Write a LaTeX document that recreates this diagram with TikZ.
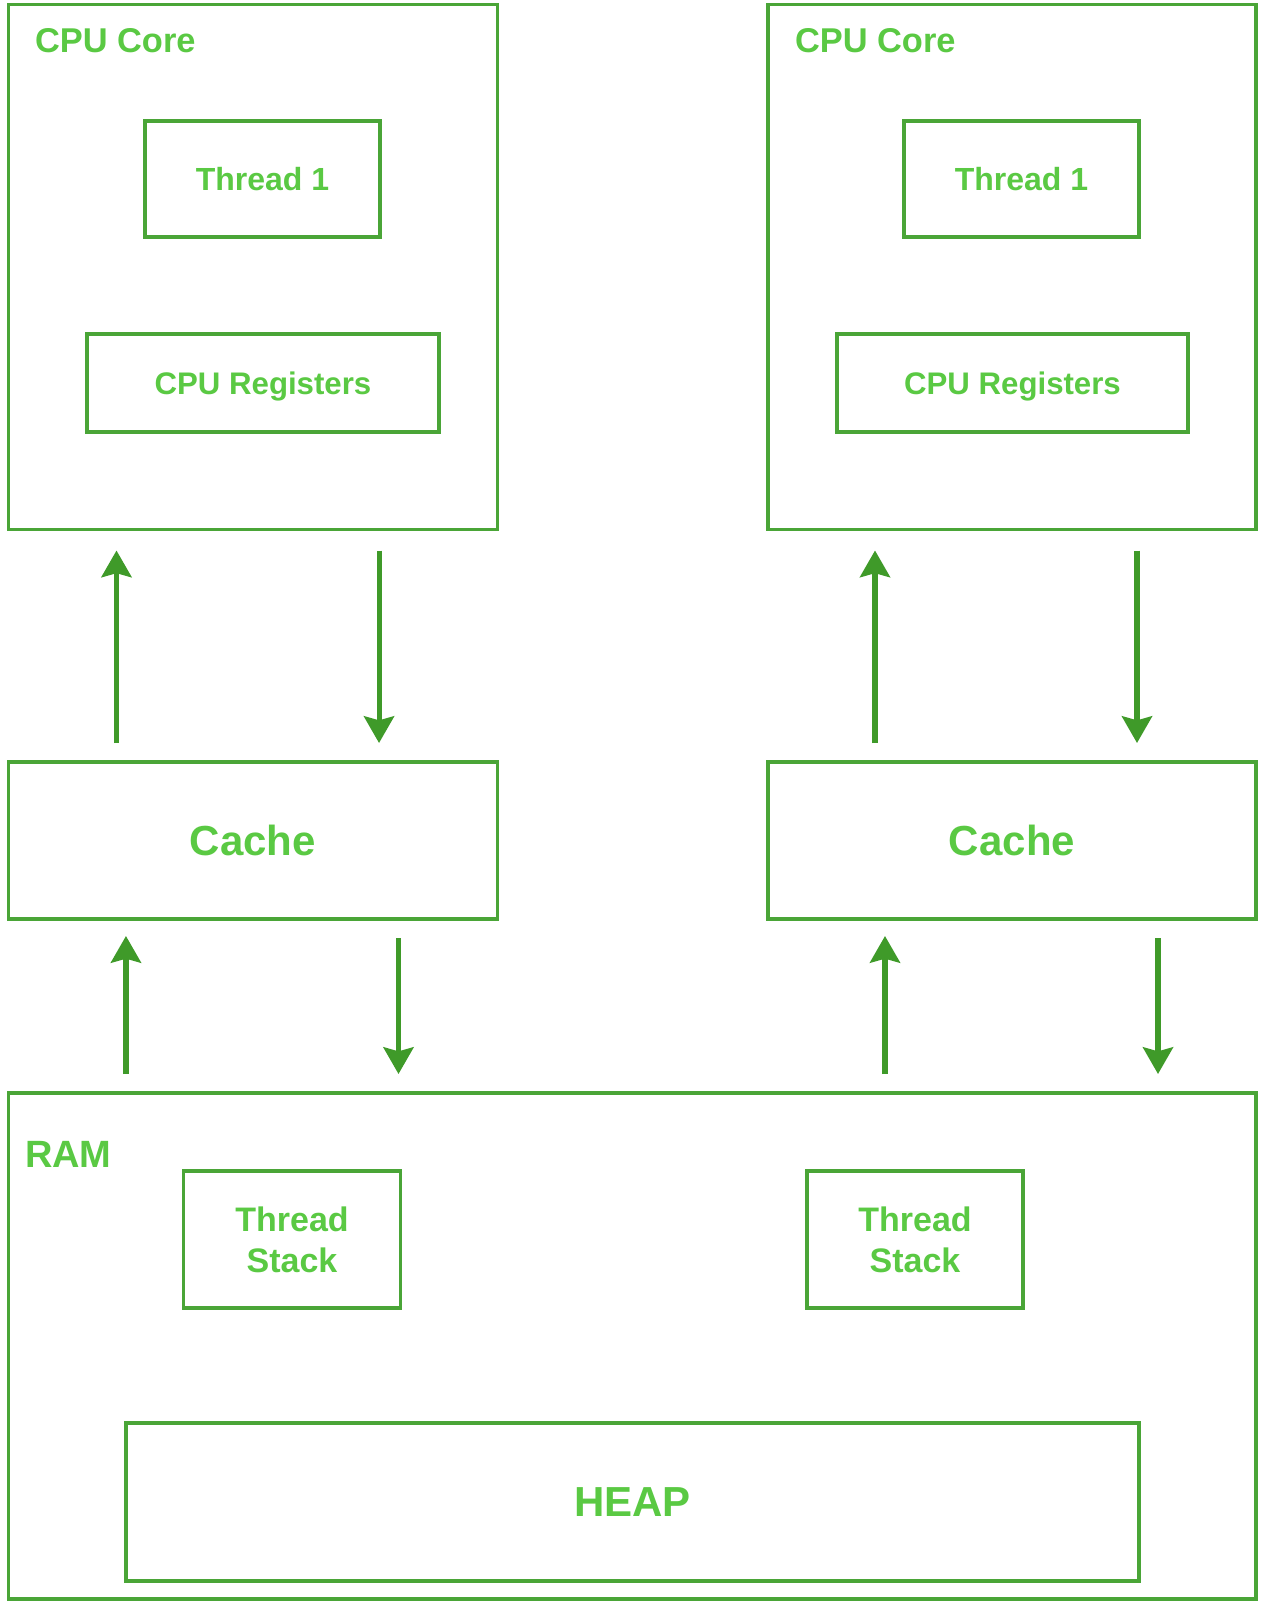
\documentclass[tikz,border=0pt]{standalone}
\usepackage{fontspec}
\setmainfont{Liberation Sans}
\usetikzlibrary{arrows.meta}
\definecolor{boxgreen}{HTML}{4AA537}
\definecolor{arrgreen}{HTML}{3F9A29}
\definecolor{txtgreen}{HTML}{5AC943}
\begin{document}
\begin{tikzpicture}[x=0.75pt,y=-0.75pt,
  bx/.style 2 args={draw=boxgreen, line width=2.4pt, rectangle, inner sep=0pt, outer sep=0pt,
     minimum width=#1*0.75pt, minimum height=#2*0.75pt, text=txtgreen, font=\bfseries},
  f24/.style={font=\fontsize{24}{29}\selectfont\bfseries},
  f23/.style={font=\fontsize{23.4}{29}\selectfont\bfseries},
  f26/.style={font=\fontsize{25.5}{30.75}\selectfont\bfseries},
  f31/.style={font=\fontsize{31.5}{36}\selectfont\bfseries},
  lbl/.style={text=txtgreen, inner sep=0pt, outer sep=0pt, anchor=base west},
  arr/.style={draw=arrgreen, line width=3.8pt, -{Stealth[length=20pt, width=22.5pt, inset=3pt]}}
]
\useasboundingbox[fill=white] (0,0) rectangle (1266,1602);

% CPU cores
\node[bx={489}{525}] (core1) at (253,267) {};
\node[bx={488}{525}] (core2) at (1012,267) {};
\node[lbl, font=\fontsize{25.8}{30}\selectfont\bfseries] (core1t) at (35,53) {CPU Core};
\node[lbl, font=\fontsize{25.8}{30}\selectfont\bfseries] (core2t) at (795,53) {CPU Core};

% Threads
\node[bx={235}{116}, f24, text depth=0pt] (th1) at (262.5,179) {Thread 1};
\node[bx={235}{116}, f24, text depth=0pt] (th2) at (1021.5,179) {Thread 1};

% Registers
\node[bx={352}{98}, f23, text depth=0pt] (reg1) at (263,383) {CPU Registers};
\node[bx={351}{98}, f23, text depth=0pt] (reg2) at (1012.5,383) {CPU Registers};

% Caches
\node[bx={489}{157}, f31, text depth=0pt] (cache1) at (253,840.5) {Cache};
\node[bx={488}{157}, f31, text depth=0pt] (cache2) at (1012,840.5) {Cache};

% RAM
\node[bx={1247.5}{506}] (ram) at (632.25,1346) {};
\node[lbl, font=\fontsize{28.5}{33}\selectfont\bfseries] (ramt) at (25,1167) {RAM};
\node[bx={216.5}{137}, f26, align=center] (ts1) at (292,1239.5) {Thread\\Stack};
\node[bx={216}{137}, f26, align=center] (ts2) at (915,1239.5) {Thread\\Stack};
\node[bx={1013}{158}, f31, text depth=0pt] (heap) at (632.5,1502) {HEAP};

% arrow columns
\coordinate (u1) at ([xshift=81pt]cache1.north west);
\coordinate (d1) at ([xshift=277.9pt]cache1.north west);
\coordinate (u2) at ([xshift=80.25pt]cache2.north west);
\coordinate (d2) at ([xshift=276.75pt]cache2.north west);
\coordinate (u3) at ([xshift=88.1pt]cache1.south west);
\coordinate (d3) at ([xshift=292.5pt]cache1.south west);
\coordinate (u4) at ([xshift=87.75pt]cache2.south west);
\coordinate (d4) at ([xshift=292.5pt]cache2.south west);

% arrows core <-> cache
\draw[arr, shorten <=14.25pt, shorten >=15.75pt] (u1) -- (u1 |- core1.south);
\draw[arr, shorten <=15.75pt, shorten >=14.25pt] (d1 |- core1.south) -- (d1);
\draw[arr, shorten <=14.25pt, shorten >=15.75pt] (u2) -- (u2 |- core2.south);
\draw[arr, shorten <=15.75pt, shorten >=14.25pt] (d2 |- core2.south) -- (d2);

% arrows cache <-> ram
\draw[arr, shorten <=14.25pt, shorten >=12.75pt] (u3 |- ram.north) -- (u3);
\draw[arr, shorten <=14.25pt, shorten >=14.25pt] (d3) -- (d3 |- ram.north);
\draw[arr, shorten <=14.25pt, shorten >=12.75pt] (u4 |- ram.north) -- (u4);
\draw[arr, shorten <=14.25pt, shorten >=14.25pt] (d4) -- (d4 |- ram.north);
\end{tikzpicture}
\end{document}
